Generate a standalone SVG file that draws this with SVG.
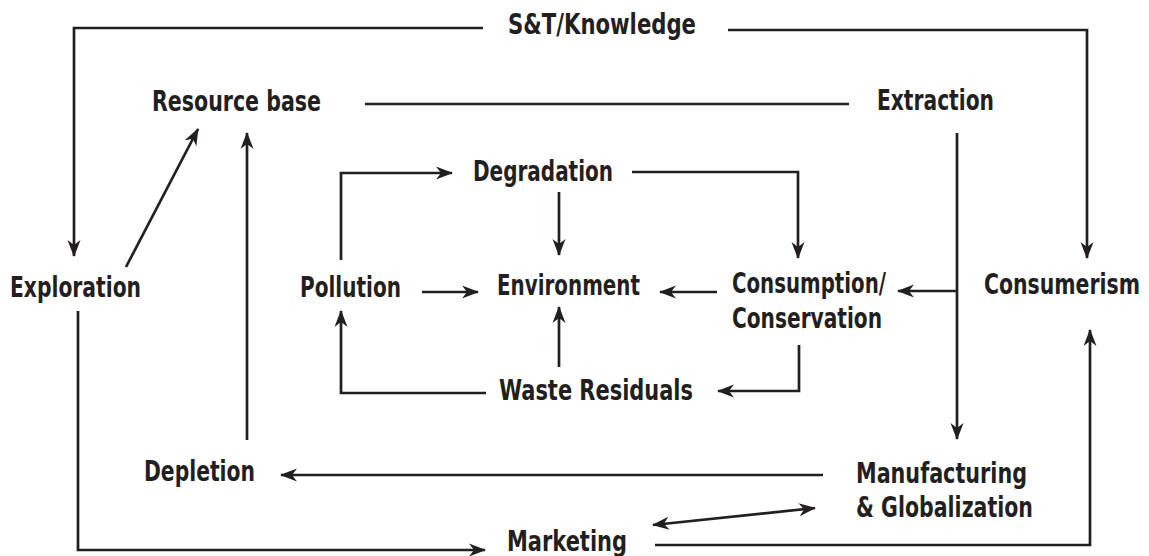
<svg xmlns="http://www.w3.org/2000/svg" width="1149" height="556" viewBox="0 0 1149 556">
<style>
  .lbl { font-family: "Liberation Sans Narrow", "DejaVu Sans Condensed", "Arial Narrow", sans-serif; font-weight: bold; font-size: 28px; fill: #231f20; font-stretch: condensed; }
  .c { fill: none; stroke: #231f20; stroke-width: 2.7; }
  .a { marker-end: url(#ah); }
  .d { marker-start: url(#ah); marker-end: url(#ah); }
</style>
<defs>
  <marker id="ah" markerUnits="userSpaceOnUse" markerWidth="18" markerHeight="14" refX="16" refY="7" orient="auto-start-reverse" viewBox="0 0 18 14">
    <path d="M0,0.5 L17,7 L0,13.5 L5,7 Z" fill="#231f20"/>
  </marker>
</defs>
<rect width="1149" height="556" fill="#ffffff"/>
<g id="connectors">
  <path class="c a" d="M483,28 L74,28 L74,256"/>
  <path class="c a" d="M728,30 L1087,30 L1087,258"/>
  <path class="c" d="M365,104 L849,104"/>
  <path class="c a" d="M957,133 L957,439"/>
  <path class="c a" d="M957,291 L898,291"/>
  <path class="c a" d="M655,545 L1090,545 L1090,330"/>
  <path class="c a" d="M78,311 L78,550 L485,550"/>
  <path class="c a" d="M126,267 L198,129"/>
  <path class="c a" d="M247,440 L247,133"/>
  <path class="c a" d="M823,475 L281,475"/>
  <path class="c d" d="M653,525 L815,508"/>
  <path class="c a" d="M341,260 L341,173 L452,173"/>
  <path class="c a" d="M632,172 L798,172 L798,258"/>
  <path class="c a" d="M559,192 L559,255"/>
  <path class="c a" d="M422,292 L478,292"/>
  <path class="c a" d="M717,292 L660,292"/>
  <path class="c a" d="M799,345 L799,391 L718,391"/>
  <path class="c a" d="M559,367 L559,307"/>
  <path class="c a" d="M486,393 L341,393 L341,311"/>
</g>
<g id="n-st"><text class="lbl" x="508" y="34" textLength="188" lengthAdjust="spacingAndGlyphs">S&amp;T/Knowledge</text></g>
<g id="n-resource"><text class="lbl" x="152" y="111" textLength="169" lengthAdjust="spacingAndGlyphs">Resource base</text></g>
<g id="n-extraction"><text class="lbl" x="877" y="110" textLength="117" lengthAdjust="spacingAndGlyphs">Extraction</text></g>
<g id="n-exploration"><text class="lbl" x="10" y="297" textLength="131" lengthAdjust="spacingAndGlyphs">Exploration</text></g>
<g id="n-pollution"><text class="lbl" x="300" y="297" textLength="101" lengthAdjust="spacingAndGlyphs">Pollution</text></g>
<g id="n-degradation"><text class="lbl" x="473" y="181" textLength="140" lengthAdjust="spacingAndGlyphs">Degradation</text></g>
<g id="n-environment"><text class="lbl" x="497" y="295" textLength="143" lengthAdjust="spacingAndGlyphs">Environment</text></g>
<g id="n-consumption">
  <text class="lbl" x="732" y="293" textLength="154" lengthAdjust="spacingAndGlyphs">Consumption/</text>
  <text class="lbl" x="732" y="328" textLength="150" lengthAdjust="spacingAndGlyphs">Conservation</text>
</g>
<g id="n-consumerism"><text class="lbl" x="984" y="294" textLength="156" lengthAdjust="spacingAndGlyphs">Consumerism</text></g>
<g id="n-waste"><text class="lbl" x="499" y="400" textLength="194" lengthAdjust="spacingAndGlyphs">Waste Residuals</text></g>
<g id="n-depletion"><text class="lbl" x="144" y="481" textLength="111" lengthAdjust="spacingAndGlyphs">Depletion</text></g>
<g id="n-manufacturing">
  <text class="lbl" x="856" y="483" textLength="171" lengthAdjust="spacingAndGlyphs">Manufacturing</text>
  <text class="lbl" x="856" y="517" textLength="177" lengthAdjust="spacingAndGlyphs">&amp; Globalization</text>
</g>
<g id="n-marketing"><text class="lbl" x="507" y="551" textLength="120" lengthAdjust="spacingAndGlyphs">Marketing</text></g>
</svg>
